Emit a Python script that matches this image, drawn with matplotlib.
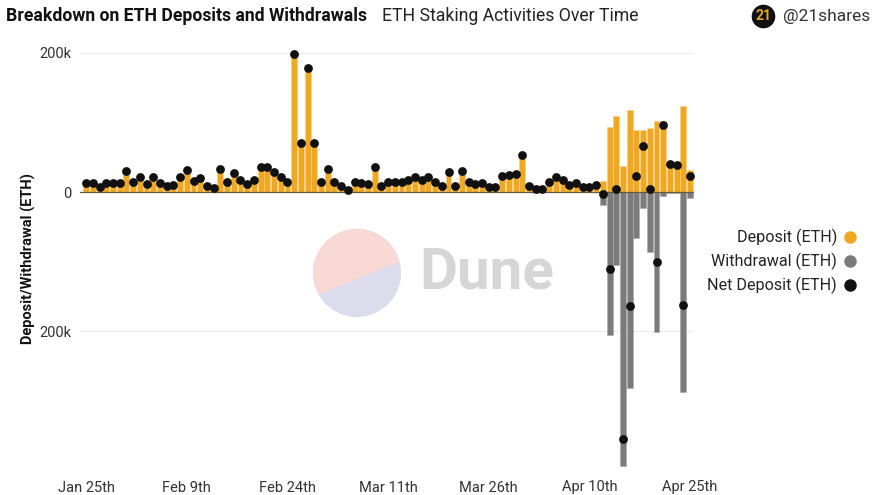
import numpy as np
import pandas as pd
import matplotlib
matplotlib.use("Agg")
import matplotlib.pyplot as plt
from matplotlib.lines import Line2D
from matplotlib.patches import Circle, Polygon

plt.rcParams['font.family'] = ['Roboto', 'DejaVu Sans']

# daily values, Jan 25 - Apr 25, in thousands of ETH
dates = pd.date_range('2023-01-25', '2023-04-25', freq='D')
deposit_k = [12.5, 12.5, 7.7, 12.5, 12.5, 13, 30.7, 14, 21.5, 12,
             21, 12.5, 8.6, 10, 21, 31.6, 16, 20, 9, 6.2,
             33, 14, 28, 17, 11.5, 17, 36.5, 36, 29, 21.6,
             14, 198.6, 71, 178, 71, 14.8, 33.3, 14.8, 9, 2.5,
             14, 12.5, 11.8, 36.5, 9, 14.8, 14.8, 14, 17.3, 21,
             17, 21, 14.8, 8.6, 29, 8, 30.8, 14, 11.5, 12.5,
             7, 7, 23.3, 24, 26.5, 53.5, 8, 4.8, 4, 14.8,
             21, 17.3, 10, 12.5, 7.5, 7.6, 10, 16, 94, 109,
             38, 118, 89, 89, 91.6, 102, 102, 43, 41, 124,
             31]
withdrawal_k = [0] * 77 + [18.5, 205, 105, 394, 282, 66.6, 22.6, 86.8,
                           202, 5, 2, 2, 287, 8]

tick_dates = ['2023-01-25', '2023-02-09', '2023-02-24', '2023-03-11',
              '2023-03-26', '2023-04-10', '2023-04-25']
tick_labels = ['Jan 25th', 'Feb 9th', 'Feb 24th', 'Mar 11th',
               'Mar 26th', 'Apr 10th', 'Apr 25th']

deposit = np.array(deposit_k) * 1000
withdrawal = -np.array(withdrawal_k) * 1000
net = deposit + withdrawal

c_dep = '#f0a823'
c_wd = '#7b7b7b'
c_net = '#111111'

fig = plt.figure(figsize=(8.72, 4.95), dpi=100)
W, H = 872, 495

# Dune watermark
wm = fig.add_axes([313 / W, 1 - 317 / H, 88 / W, 88 / H])
wm.set_xlim(-1, 1)
wm.set_ylim(-1, 1)
wm.set_aspect('equal')
wm.axis('off')
circ = Circle((0, 0), 1, color='#dcdcec', lw=0)
wm.add_patch(circ)
pink = Polygon([(-1.2, -0.62), (1.2, 0.36), (1.2, 1.2), (-1.2, 1.2)],
               closed=True, color='#f9d9d3', lw=0)
wm.add_patch(pink)
pink.set_clip_path(circ)
fig.text(419 / W, 1 - 273 / H, 'Dune', fontsize=42, fontweight='bold',
         color='#d6d6d6', va='center', ha='left')

ax = fig.add_axes([80 / W, 1 - 468 / H, 614 / W, 428 / H])
ax.patch.set_alpha(0)
x = pd.to_datetime(dates)
ax.bar(x, deposit, width=0.88, color=c_dep, edgecolor='#f7cf85', lw=0.4, zorder=2)
ax.bar(x, withdrawal, width=0.88, color=c_wd, edgecolor='#a8a8a8', lw=0.4, zorder=2)
ax.scatter(x, net, s=40, color=c_net, zorder=4, lw=0)
ax.axhline(0, color='#6b5a35', lw=0.9, zorder=3)

ax.set_xlim(x[0] - pd.Timedelta(hours=22), x[-1] + pd.Timedelta(hours=14))
ax.set_ylim(-397000, 218700)
ax.set_yticks([-200000, 0, 200000])
ax.set_yticklabels(['200k', '0', '200k'])
ax.set_xticks(pd.to_datetime(tick_dates))
ax.set_xticklabels(tick_labels)
ax.tick_params(length=0, labelsize=10.5, colors='#333333')
ax.tick_params(axis='x', pad=9)
ax.tick_params(axis='y', pad=6)
ax.grid(axis='y', color='#ececec', lw=0.8, zorder=0)
for s in ax.spines.values():
    s.set_visible(False)
ax.set_ylabel('Deposit/Withdrawal (ETH)', fontsize=10.5, fontweight='bold',
              color='#111111', labelpad=4)
ax.yaxis.set_label_coords(-0.072, 0.49)

# title
fig.text(6 / W, 1 - 16 / H, 'Breakdown on ETH Deposits and Withdrawals',
         fontsize=12.7, fontweight='bold', color='#111111', va='center')
fig.text(382 / W, 1 - 16 / H, 'ETH Staking Activities Over Time',
         fontsize=12.7, color='#222222', va='center')

# 21shares badge
fig.add_artist(Line2D([763 / W], [1 - 16 / H], marker='o', markersize=16,
                      color='#111111', transform=fig.transFigure))
fig.text(763 / W, 1 - 16 / H, '21', fontsize=10, fontweight='bold',
         color='#e3a92b', ha='center', va='center')
fig.text(783 / W, 1 - 16 / H, '@21shares', fontsize=12.5, color='#333333',
         va='center')

# legend
legend_items = [('Deposit (ETH)', c_dep), ('Withdrawal (ETH)', c_wd),
                ('Net Deposit (ETH)', c_net)]
for i, (name, col) in enumerate(legend_items):
    yy = 1 - (237 + 24 * i) / H
    fig.text(837 / W, yy, name, fontsize=11.6, color='#222222',
             ha='right', va='center')
    fig.add_artist(Line2D([850 / W], [yy], marker='o', markersize=8,
                          color=col, transform=fig.transFigure))

plt.savefig('out.png', dpi=100)
